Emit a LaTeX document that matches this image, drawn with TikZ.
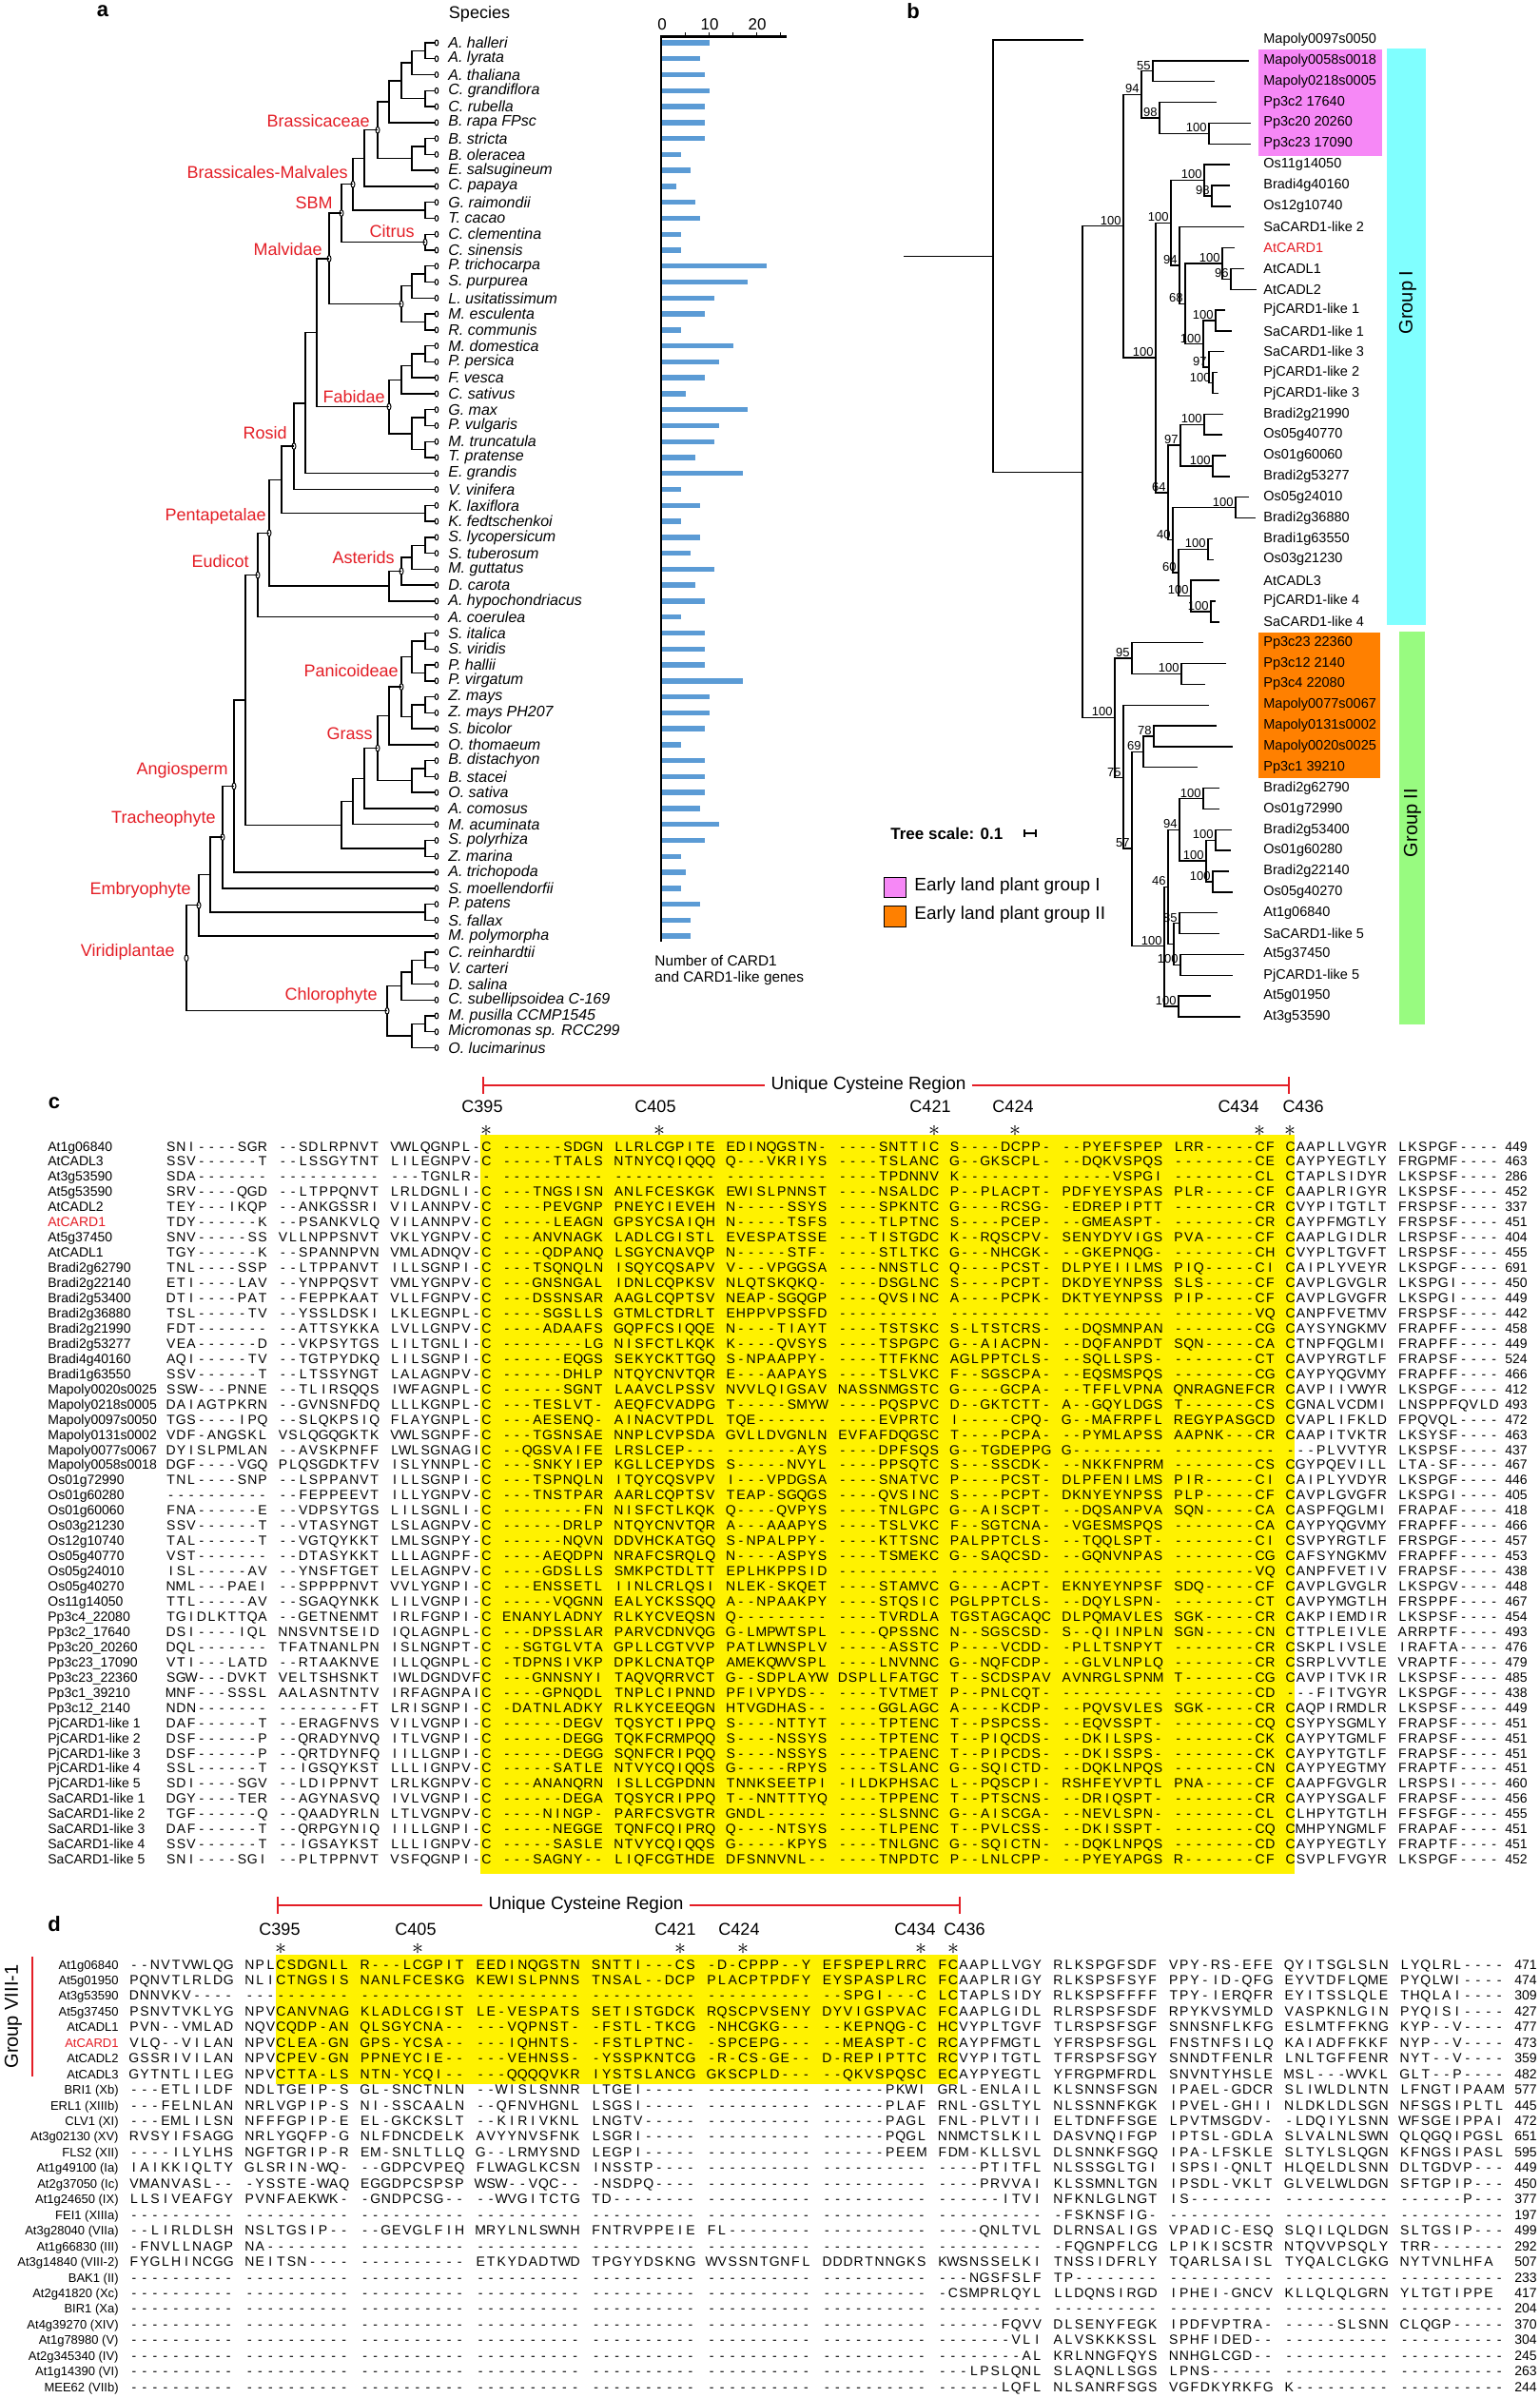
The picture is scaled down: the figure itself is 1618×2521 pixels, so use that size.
\documentclass[tikz,border=0pt]{standalone}
\usepackage{fontspec}
\setmainfont{Liberation Sans}
\usetikzlibrary{shapes.geometric}

\definecolor{cladered}{RGB}{228,30,38}
\definecolor{barblue}{RGB}{91,155,213}
\definecolor{hlyellow}{RGB}{255,242,0}
\definecolor{elpink}{RGB}{246,136,246}
\definecolor{elorange}{RGB}{255,128,0}
\definecolor{grpcyan}{RGB}{128,255,255}
\definecolor{grpgreen}{RGB}{152,251,128}

% row positions (pixel grid of the figure)
\newcommand\ya[1]{45+16.77*(#1-1)}
\newcommand\yb[1]{42+21.85*(#1-1)}
\newcommand\yc[1]{1205+15.95*(#1-1)}
\newcommand\yd[1]{2065+16.45*(#1-1)}

% one residue per fixed-width box
\ExplSyntaxOn
\NewDocumentCommand\seqrow{mm}{\str_map_inline:nn{#2}{\makebox[#1][c]{##1}}}
\ExplSyntaxOff

% species tree (panel a)
\newcommand\spleaf[3]{%
  \node[tipdot] (s#1) at (459,{\ya{#1}}) {};
  \node[spname] (s#1t) at (471,{\ya{#1}}) {#2};
  \ifx&#3&\else\draw[cardbar] (696,{\ya{#1}}) -- ++(5*#3,0);\fi}
\newcommand\anode[5]{%
  \coordinate (#1) at (#2,{\ya{#3}});
  \draw[branch] (#4) -| (#1) |- (#5);}
\newcommand\anodem[5]{%
  \anode{#1}{#2}{#3}{#4}{#5}
  \node[innerdot] (#1m) at (#1) {};}

% gene tree (panel b)
\newcommand\bleaf[4]{%
  \coordinate (#1) at (#3,{\yb{#2}});
  \node[gname] (#1n) at (1328,{\yb{#2}}) {#4};}
\newcommand\bjoin[5]{%
  \coordinate (#1) at (#2,{\yb{#3}});
  \draw[branch] (#4) -| (#1) |- (#5);}
\newcommand\bnode[6]{%
  \bjoin{#1}{#2}{#3}{#4}{#5}
  \node[boot] (#1b) at ([shift={(-2,-6)}]#1) {#6};}

% alignment rows (panels c, d)
\newcommand\crow[4]{%
  \node[alname] (cn#1) at (50,{\yc{#1}}) {#2};
  \node[alseq] (cs#1) at (174,{\yc{#1}}) {\seqrow{5.35pt}{#3}};
  \node[alnum] (cx#1) at (1582,{\yc{#1}}) {#4};}
\newcommand\drow[4]{%
  \node[dname] (dn#1) at (125,{\yd{#1}}) {#2};
  \node[alseq] (ds#1) at (135,{\yd{#1}}) {\seqrow{5.52pt}{#3}};
  \node[alnum] (dx#1) at (1592,{\yd{#1}}) {#4};}

\begin{document}
\begin{tikzpicture}[x=0.5pt,y=-0.5pt,
  branch/.style={draw=black,line width=0.7pt},
  tipdot/.style={ellipse,draw=black,fill=white,line width=0.5pt,minimum width=1.8pt,minimum height=3pt,inner sep=0pt},
  innerdot/.style={ellipse,draw=black,fill=white,line width=0.5pt,minimum width=2pt,minimum height=3.4pt,inner sep=0pt},
  spname/.style={anchor=west,inner sep=0pt,font=\fontsize{8}{8}\selectfont\itshape},
  cladelbl/.style={anchor=east,inner sep=0pt,text=cladered,font=\fontsize{9}{9}\selectfont},
  cardbar/.style={draw=barblue,line width=2.7pt},
  axislbl/.style={inner sep=0pt,font=\fontsize{8.5}{8.5}\selectfont},
  gname/.style={anchor=west,inner sep=0pt,font=\fontsize{7.25}{7.25}\selectfont},
  boot/.style={anchor=east,inner sep=0pt,font=\fontsize{6.5}{6.5}\selectfont},
  grplbl/.style={rotate=90,inner sep=0pt,font=\fontsize{10}{10}\selectfont},
  legendtxt/.style={anchor=west,inner sep=0pt,font=\fontsize{9.5}{9.5}\selectfont},
  panel/.style={inner sep=0pt,font=\fontsize{11}{11}\selectfont\bfseries},
  alname/.style={anchor=west,inner sep=0pt,text height=5pt,text depth=0pt,font=\fontsize{7}{7}\selectfont},
  dname/.style={anchor=east,inner sep=0pt,text height=5pt,text depth=0pt,font=\fontsize{6.5}{6.5}\selectfont},
  alseq/.style={anchor=west,inner sep=0pt,text height=5pt,text depth=0pt,font=\fontsize{7}{7}\selectfont},
  alnum/.style={anchor=west,inner sep=0pt,text height=5pt,text depth=0pt,font=\fontsize{7}{7}\selectfont},
  redline/.style={draw=cladered,line width=0.6pt},
  ucr/.style={inner sep=3pt,font=\fontsize{9.5}{9.5}\selectfont},
  cpos/.style={inner sep=0pt,font=\fontsize{9}{9}\selectfont},
  star/.style={inner sep=0pt,font=\fontsize{12}{12}\selectfont}]
\useasboundingbox (0,0) rectangle (1618,2521);
\fill[white] (0,0) rectangle (1618,2521);

%%% panel a
\node[panel] (pa) at (108,12) {a};
\node[inner sep=0pt,font=\fontsize{9}{9}\selectfont] (spec) at (504,15) {Species};

\spleaf{1}{A. halleri}{10}
\spleaf{2}{A. lyrata}{8}
\spleaf{3}{A. thaliana}{9}
\spleaf{4}{C. grandiflora}{10}
\spleaf{5}{C. rubella}{9}
\spleaf{6}{B. rapa FPsc}{9}
\spleaf{7}{B. stricta}{9}
\spleaf{8}{B. oleracea}{4}
\spleaf{9}{E. salsugineum}{6}
\spleaf{10}{C. papaya}{3}
\spleaf{11}{G. raimondii}{7}
\spleaf{12}{T. cacao}{8}
\spleaf{13}{C. clementina}{4}
\spleaf{14}{C. sinensis}{4}
\spleaf{15}{P. trichocarpa}{22}
\spleaf{16}{S. purpurea}{18}
\spleaf{17}{L. usitatissimum}{11}
\spleaf{18}{M. esculenta}{9}
\spleaf{19}{R. communis}{4}
\spleaf{20}{M. domestica}{15}
\spleaf{21}{P. persica}{12}
\spleaf{22}{F. vesca}{9}
\spleaf{23}{C. sativus}{5}
\spleaf{24}{G. max}{18}
\spleaf{25}{P. vulgaris}{12}
\spleaf{26}{M. truncatula}{11}
\spleaf{27}{T. pratense}{7}
\spleaf{28}{E. grandis}{17}
\spleaf{29}{V. vinifera}{4}
\spleaf{30}{K. laxiflora}{8}
\spleaf{31}{K. fedtschenkoi}{4}
\spleaf{32}{S. lycopersicum}{8}
\spleaf{33}{S. tuberosum}{6}
\spleaf{34}{M. guttatus}{11}
\spleaf{35}{D. carota}{7}
\spleaf{36}{A. hypochondriacus}{9}
\spleaf{37}{A. coerulea}{4}
\spleaf{38}{S. italica}{9}
\spleaf{39}{S. viridis}{9}
\spleaf{40}{P. hallii}{9}
\spleaf{41}{P. virgatum}{17}
\spleaf{42}{Z. mays}{10}
\spleaf{43}{Z. mays PH207}{10}
\spleaf{44}{S. bicolor}{9}
\spleaf{45}{O. thomaeum}{4}
\spleaf{46}{B. distachyon}{9}
\spleaf{47}{B. stacei}{9}
\spleaf{48}{O. sativa}{9}
\spleaf{49}{A. comosus}{8}
\spleaf{50}{M. acuminata}{12}
\spleaf{51}{S. polyrhiza}{9}
\spleaf{52}{Z. marina}{4}
\spleaf{53}{A. trichopoda}{5}
\spleaf{54}{S. moellendorfii}{4}
\spleaf{55}{P. patens}{8}
\spleaf{56}{S. fallax}{6}
\spleaf{57}{M. polymorpha}{6}
\spleaf{58}{C. reinhardtii}{}
\spleaf{59}{V. carteri}{}
\spleaf{60}{D. salina}{}
\spleaf{61}{C. subellipsoidea C-169}{}
\spleaf{62}{M. pusilla CCMP1545}{}
\spleaf{63}{Micromonas sp. RCC299}{}
\spleaf{64}{O. lucimarinus}{}

% Brassicales-Malvales
\anode{h1}{447}{1.5}{s1}{s2}
\anode{h2}{433}{2.25}{h1}{s3}
\anode{h3}{447}{4.5}{s4}{s5}
\anode{h4}{422}{3.375}{h2}{h3}
\anode{h5}{409}{4.6875}{h4}{s6}
\anode{h6}{447}{7.5}{s7}{s8}
\anode{h7}{433}{8.25}{h6}{s9}
\anodem{brass}{397}{6.47}{h5}{h7}
\anode{h8}{383}{8.23}{brass}{s10}
\anode{h9}{447}{11.5}{s11}{s12}
\anodem{bm}{371}{9.87}{h8}{h9}
\anodem{citrus}{447}{13.5}{s13}{s14}
\anodem{sbm}{359}{11.68}{bm}{citrus}
\anode{m1}{447}{15.5}{s15}{s16}
\anode{m2}{433}{16.25}{m1}{s17}
\anode{m3}{447}{18.5}{s18}{s19}
\anodem{malp}{422}{17.375}{m2}{m3}
\anodem{malv}{346}{14.53}{sbm}{malp}
% Fabidae
\anode{f1}{447}{20.5}{s20}{s21}
\anode{f2}{433}{21.25}{f1}{s22}
\anode{f3}{422}{22.125}{f2}{s23}
\anode{f4}{447}{24.5}{s24}{s25}
\anode{f5}{447}{26.5}{s26}{s27}
\anode{f6}{433}{25.5}{f4}{f5}
\anodem{fab}{409}{23.81}{f3}{f6}
\anode{r1}{333}{19.17}{malv}{fab}
\anode{r2}{321}{23.59}{r1}{s28}
\anodem{rosid}{309}{26.29}{r2}{s29}
\anode{k1}{447}{30.5}{s30}{s31}
\anode{r3}{296}{28.4}{rosid}{k1}
% Asterids
\anode{a1}{447}{32.5}{s32}{s33}
\anode{a2}{433}{33.25}{a1}{s34}
\anodem{ast}{422}{34.125}{a2}{s35}
\anode{a3}{409}{35.06}{ast}{s36}
\anodem{penta}{283}{31.73}{r3}{a3}
\anodem{eud}{271}{34.37}{penta}{s37}
% monocots
\anode{p1}{447}{38.5}{s38}{s39}
\anode{p2}{447}{40.5}{s40}{s41}
\anode{p3}{433}{39.5}{p1}{p2}
\anode{p4}{447}{42.5}{s42}{s43}
\anode{p5}{433}{43.25}{p4}{s44}
\anodem{pan}{422}{41.375}{p3}{p5}
\anode{p6}{409}{43.19}{pan}{s45}
\anode{g1}{447}{46.5}{s46}{s47}
\anode{g2}{433}{47.25}{g1}{s48}
\anodem{grass}{397}{45.22}{p6}{g2}
\anode{mo1}{383}{47.11}{grass}{s49}
\anode{mo2}{371}{48.55}{mo1}{s50}
\anode{mo3}{447}{51.5}{s51}{s52}
\anode{mono}{359}{50.03}{mo2}{mo3}
\anode{eu2}{258}{42.2}{eud}{mono}
\anodem{angio}{246}{47.6}{eu2}{s53}
\anodem{trach}{234}{50.8}{angio}{s54}
\anode{b1}{447}{55.5}{s55}{s56}
\anode{t2}{221}{53.15}{trach}{b1}
\anodem{embr}{209}{55.07}{t2}{s57}
% Chlorophyte
\anode{c1}{447}{58.5}{s58}{s59}
\anode{c2}{433}{59.25}{c1}{s60}
\anode{c3}{422}{60.125}{c2}{s61}
\anode{c4}{447}{62.5}{s62}{s63}
\anode{c5}{433}{63.25}{c4}{s64}
\anodem{chloro}{407}{61.69}{c3}{c5}
\anodem{viri}{196}{58.38}{embr}{chloro}

\node[cladelbl] (lbrass) at (389,127) {Brassicaceae};
\node[cladelbl] (lbm) at (366,181) {Brassicales-Malvales};
\node[cladelbl] (lsbm) at (350,213) {SBM};
\node[cladelbl] (lcitrus) at (436,243) {Citrus};
\node[cladelbl] (lmalv) at (339,262) {Malvidae};
\node[cladelbl] (lfab) at (405,417) {Fabidae};
\node[cladelbl] (lrosid) at (302,455) {Rosid};
\node[cladelbl] (lpenta) at (280,543) {Pentapetalae};
\node[cladelbl] (leud) at (262,590) {Eudicot};
\node[cladelbl] (last) at (415,586) {Asterids};
\node[cladelbl] (lpan) at (419,705) {Panicoideae};
\node[cladelbl] (lgrass) at (392,771) {Grass};
\node[cladelbl] (langio) at (240,810) {Angiosperm};
\node[cladelbl] (ltrach) at (227,861) {Tracheophyte};
\node[cladelbl] (lembr) at (201,936) {Embryophyte};
\node[cladelbl] (lviri) at (184,1001) {Viridiplantae};
\node[cladelbl] (lchloro) at (397,1047) {Chlorophyte};

% bar axis
\coordinate (ax0) at (695,38.5);
\coordinate (ax1) at (827,38.5);
\coordinate (axb) at (695,990);
\draw[line width=1.1pt] (ax1) -- (ax0) -- (axb);
\draw[line width=0.5pt] (720,38.5) -- (720,34) (745,38.5) -- (745,34) (770,38.5) -- (770,34) (795,38.5) -- (795,34) (820,38.5) -- (820,34);
\node[axislbl] (t0) at (696,26) {0};
\node[axislbl] (t10) at (746,26) {10};
\node[axislbl] (t20) at (796,26) {20};
\node[anchor=west,inner sep=0pt,font=\fontsize{7.7}{7.7}\selectfont] (nlab1) at (688,1010) {Number of CARD1};
\node[anchor=west,inner sep=0pt,font=\fontsize{7.7}{7.7}\selectfont] (nlab2) at (688,1029) {and CARD1-like genes};

%%% panel b
\node[panel] (pb) at (960,12) {b};
\fill[elpink] (1323,52) rectangle (1453,164);
\fill[elorange] (1323,665) rectangle (1451,818);
\fill[grpcyan] (1458,51) rectangle (1499,657);
\fill[grpgreen] (1471,664) rectangle (1498,1077);
\node[grplbl] (g1lab) at (1480,318) {Group I};
\node[grplbl] (g2lab) at (1485,865) {Group II};

\bleaf{b1}{1}{1139}{Mapoly0097s0050}
\bleaf{b2}{2}{1313}{Mapoly0058s0018}
\bleaf{b3}{3}{1277}{Mapoly0218s0005}
\bleaf{b4}{4}{1279}{Pp3c2 17640}
\bleaf{b5}{5}{1315}{Pp3c20 20260}
\bleaf{b6}{6}{1315}{Pp3c23 17090}
\bleaf{b7}{7}{1293}{Os11g14050}
\bleaf{b8}{8}{1293}{Bradi4g40160}
\bleaf{b9}{9}{1294}{Os12g10740}
\bleaf{b10}{10}{1308}{SaCARD1-like 2}
\bleaf{b11}{11}{1298}{\textcolor{cladered}{AtCARD1}}
\bleaf{b12}{12}{1308}{AtCADL1}
\bleaf{b13}{13}{1321}{AtCADL2}
\bleaf{b14}{14}{1288}{PjCARD1-like 1}
\bleaf{b15}{15}{1295}{SaCARD1-like 1}
\bleaf{b16}{16}{1287}{SaCARD1-like 3}
\bleaf{b17}{17}{1280}{PjCARD1-like 2}
\bleaf{b18}{18}{1281}{PjCARD1-like 3}
\bleaf{b19}{19}{1286}{Bradi2g21990}
\bleaf{b20}{20}{1285}{Os05g40770}
\bleaf{b21}{21}{1289}{Os01g60060}
\bleaf{b22}{22}{1293}{Bradi2g53277}
\bleaf{b23}{23}{1313}{Os05g24010}
\bleaf{b24}{24}{1320}{Bradi2g36880}
\bleaf{b25}{25}{1275}{Bradi1g63550}
\bleaf{b26}{26}{1276}{Os03g21230}
\bleaf{b27}{27}{1282}{AtCADL3}
\bleaf{b28}{28}{1278}{PjCARD1-like 4}
\bleaf{b29}{29}{1282}{SaCARD1-like 4}
\bleaf{b30}{30}{1265}{Pp3c23 22360}
\bleaf{b31}{31}{1289}{Pp3c12 2140}
\bleaf{b32}{32}{1267}{Pp3c4 22080}
\bleaf{b33}{33}{1271}{Mapoly0077s0067}
\bleaf{b34}{34}{1279}{Mapoly0131s0002}
\bleaf{b35}{35}{1296}{Mapoly0020s0025}
\bleaf{b36}{36}{1259}{Pp3c1 39210}
\bleaf{b37}{37}{1282}{Bradi2g62790}
\bleaf{b38}{38}{1282}{Os01g72990}
\bleaf{b39}{39}{1295}{Bradi2g53400}
\bleaf{b40}{40}{1294}{Os01g60280}
\bleaf{b41}{41}{1292}{Bradi2g22140}
\bleaf{b42}{42}{1296}{Os05g40270}
\bleaf{b43}{43}{1280}{At1g06840}
\bleaf{b44}{44}{1282}{SaCARD1-like 5}
\bleaf{b45}{45}{1308}{At5g37450}
\bleaf{b46}{46}{1296}{PjCARD1-like 5}
\bleaf{b47}{47}{1273}{At5g01950}
\bleaf{b48}{48}{1304}{At3g53590}

% group I
\bnode{n55}{1212}{2.5}{b2}{b3}{55}
\bnode{n100a}{1271}{5.5}{b5}{b6}{100}
\bnode{n98a}{1219}{4.75}{b4}{n100a}{98}
\bnode{n94a}{1200}{3.625}{n55}{n98a}{94}
\bnode{n98b}{1274}{8.5}{b8}{b9}{98}
\bnode{n100b}{1266}{7.75}{b7}{n98b}{100}
\bnode{n96}{1294}{12.5}{b12}{b13}{96}
\bnode{n100c}{1285}{11.75}{b11}{n96}{100}
\bnode{n100d}{1278}{14.5}{b14}{b15}{100}
\bnode{n100e}{1275}{17.5}{b17}{b18}{100}
\bnode{n97a}{1271}{16.75}{b16}{n100e}{97}
\bnode{n100f}{1265}{15.625}{n100d}{n97a}{100}
\bnode{n68}{1246}{13.69}{n100c}{n100f}{68}
\bnode{n94b}{1240}{11.84}{b10}{n68}{94}
\bnode{n100g}{1231}{9.8}{n100b}{n94b}{100}
\bnode{n100h}{1266}{19.5}{b19}{b20}{100}
\bnode{n100i}{1275}{21.5}{b21}{b22}{100}
\bnode{n97b}{1241}{20.5}{n100h}{n100i}{97}
\bnode{n100j}{1299}{23.5}{b23}{b24}{100}
\bnode{n100k}{1270}{25.5}{b25}{b26}{100}
\bnode{n100l}{1273}{28.5}{b28}{b29}{100}
\bnode{n100m}{1252}{27.75}{b27}{n100l}{100}
\bnode{n60}{1239}{26.625}{n100k}{n100m}{60}
\bnode{n40}{1233}{25.06}{n100j}{n60}{40}
\bnode{n64}{1228}{22.78}{n97b}{n40}{64}
\bnode{n100n}{1215}{16.29}{n100g}{n64}{100}
\bnode{grpI}{1181}{9.96}{n94a}{n100n}{100}
% group II
\bnode{n100o}{1242}{31.5}{b31}{b32}{100}
\bnode{n95}{1190}{30.75}{b30}{n100o}{95}
\bnode{n78}{1213}{34.5}{b34}{b35}{78}
\bnode{n69}{1202}{35.25}{n78}{b36}{69}
\bnode{n100p}{1265}{37.5}{b37}{b38}{100}
\bnode{n100q}{1278}{39.5}{b39}{b40}{100}
\bnode{n100r}{1275}{41.5}{b41}{b42}{100}
\bnode{n100s}{1268}{40.5}{n100q}{n100r}{100}
\bnode{n94c}{1240}{39}{n100p}{n100s}{94}
\bnode{n85}{1240}{43.5}{b43}{b44}{85}
\bnode{n100t}{1241}{45.5}{b45}{b46}{100}
\bjoin{n100u}{1234}{44.5}{n85}{n100t}
\bnode{n46}{1228}{41.75}{n94c}{n100u}{46}
\bnode{n100v}{1239}{47.5}{b47}{b48}{100}
\bnode{n100w}{1224}{44.6}{n46}{n100v}{100}
\bnode{n57}{1190}{39.9}{n69}{n100w}{57}
\bnode{n75}{1181}{36.5}{b33}{n57}{75}
\bnode{grpII}{1172}{33.6}{n95}{n75}{100}
\bjoin{nB}{1138}{21.8}{grpI}{grpII}
\bjoin{nA}{1044}{11.4}{b1}{nB}
\coordinate (broot) at (950,{\yb{11.4}});
\draw[branch] (broot) -- (nA);

% scale and legend
\node[anchor=west,inner sep=0pt,font=\fontsize{8.5}{8.5}\selectfont\bfseries] (tsc) at (936,876) {Tree scale: 0.1};
\coordinate (sc0) at (1077,876);
\coordinate (sc1) at (1089,876);
\draw[line width=0.6pt] (sc0) -- (sc1) ([shift={(0,-4)}]sc0) -- ([shift={(0,4)}]sc0) ([shift={(0,-4)}]sc1) -- ([shift={(0,4)}]sc1);
\filldraw[fill=elpink,draw=black,line width=0.5pt] (929,922) rectangle (952,943);
\filldraw[fill=elorange,draw=black,line width=0.5pt] (929,952) rectangle (952,974);
\node[legendtxt] (leg1) at (961,932) {Early land plant group I};
\node[legendtxt] (leg2) at (961,962) {Early land plant group II};

%%% panel c
\node[panel] (pc) at (57,1160) {c};
\fill[hlyellow] (505,1193) rectangle (1361,1970);
\coordinate (cul) at (508,1141);
\coordinate (cur) at (1355,1141);
\node[ucr] (cuc) at (913,1141) {Unique Cysteine Region};
\draw[redline] (cul) -- (cuc.west) (cuc.east) -- (cur);
\draw[redline] ([shift={(0,-9)}]cul) -- ([shift={(0,9)}]cul) ([shift={(0,-9)}]cur) -- ([shift={(0,9)}]cur);
\node[cpos] (cc1) at (507,1163) {C395};
\node[cpos] (cc2) at (689,1163) {C405};
\node[cpos] (cc3) at (978,1163) {C421};
\node[cpos] (cc4) at (1065,1163) {C424};
\node[cpos] (cc5) at (1302,1163) {C434};
\node[cpos] (cc6) at (1370,1163) {C436};
\node[star] (ca1) at (511,1189) {$\ast$};
\node[star] (ca2) at (693,1189) {$\ast$};
\node[star] (ca3) at (982,1189) {$\ast$};
\node[star] (ca4) at (1067,1189) {$\ast$};
\node[star] (ca5) at (1324,1189) {$\ast$};
\node[star] (ca6) at (1356,1189) {$\ast$};

\crow{1}{At1g06840}{SNI----SGR --SDLRPNVT VWLQGNPL-C ------SDGN LLRLCGPITE EDINQGSTN- ----SNTTIC S----DCPP- --PYEFSPEP LRR-----CF CAAPLLVGYR LKSPGF----}{449}
\crow{2}{AtCADL3}{SSV------T --LSSGYTNT LILEGNPV-C -----TTALS NTNYCQIQQQ Q---VKRIYS ----TSLANC G--GKSCPL- --DQKVSPQS --------CE CAYPYEGTLY FRGPMF----}{463}
\crow{3}{At3g53590}{SDA------- ---------- ---TGNLR-- ---------- ---------- ---------- ----TPDNNV K--------- -----VSPGI --------CL CTAPLSIDYR LKSPSF----}{286}
\crow{4}{At5g53590}{SRV----QGD --LTPPQNVT LRLDGNLI-C ---TNGSISN ANLFCESKGK EWISLPNNST ----NSALDC P--PLACPT- PDFYEYSPAS PLR-----CF CAAPLRIGYR LKSPSF----}{452}
\crow{5}{AtCADL2}{TEY---IKQP --ANKGSSRI VILANNPV-C ----PEVGNP PNEYCIEVEH N-----SSYS ----SPKNTC G----RCSG- -EDREPIPTT --------CR CVYPITGTLT FRSPSF----}{337}
\crow{6}{\textcolor{cladered}{AtCARD1}}{TDY------K --PSANKVLQ VILANNPV-C -----LEAGN GPSYCSAIQH N-----TSFS ----TLPTNC S----PCEP- --GMEASPT- --------CR CAYPFMGTLY FRSPSF----}{451}
\crow{7}{At5g37450}{SNV-----SS VLLNPPSNVT VKLYGNPV-C ---ANVNAGK LADLCGISTL EVESPATSSE ---TISTGDC K--RQSCPV- SENYDYVIGS PVA-----CF CAAPLGIDLR LRSPSF----}{404}
\crow{8}{AtCADL1}{TGY------K --SPANNPVN VMLADNQV-C ----QDPANQ LSGYCNAVQP N-----STF- ----STLTKC G---NHCGK- --GKEPNQG- --------CH CVYPLTGVFT LRSPSF----}{455}
\crow{9}{Bradi2g62790}{TNL----SSP --LTPPANVT ILLSGNPI-C ---TSQNQLN ISQYCQSAPV V---VPGGSA ----NNSTLC Q----PCST- DLPYEIILMS PIQ-----CI CAIPLYVEYR LKSPGF----}{691}
\crow{10}{Bradi2g22140}{ETI----LAV --YNPPQSVT VMLYGNPV-C ---GNSNGAL IDNLCQPKSV NLQTSKQKQ- ----DSGLNC S----PCPT- DKDYEYNPSS SLS-----CF CAVPLGVGLR LKSPGI----}{450}
\crow{11}{Bradi2g53400}{DTI----PAT --FEPPKAAT VLLFGNPV-C ---DSSNSAR AAGLCQPTSV NEAP-SGQGP ----QVSINC A----PCPK- DKTYEYNPSS PIP-----CF CAVPLGVGFR LKSPGI----}{449}
\crow{12}{Bradi2g36880}{TSL-----TV --YSSLDSKI LKLEGNPL-C ----SGSLLS GTMLCTDRLT EHPPVPSSFD ---------- ---------- ---------- --------VQ CANPFVETMV FRSPSF----}{442}
\crow{13}{Bradi2g21990}{FDT------- --ATTSYKKA LVLLGNPV-C ----ADAAFS GQPFCSIQQE N----TIAYT ----TSTSKC S-LTSTCRS- --DQSMNPAN --------CG CAYSYNGKMV FRAPFF----}{458}
\crow{14}{Bradi2g53277}{VEA------D --VKPSYTGS LILTGNLI-C --------LG NISFCTLKQK K----QVSYS ----TSPGPC G--AIACPN- --DQFANPDT SQN-----CA CTNPFQGLMI FRAPFF----}{449}
\crow{15}{Bradi4g40160}{AQI-----TV --TGTPYDKQ LILSGNPI-C ------EQGS SEKYCKTTGQ S-NPAAPPY- ----TTFKNC AGLPPTCLS- --SQLLSPS- --------CT CAVPYRGTLF FRAPSF----}{524}
\crow{16}{Bradi1g63550}{SSV------T --LTSSYNGT LALAGNPV-C ------DHLP NTQYCNVTQR E---AAPAYS ----TSLVKC F--SGSCPA- --EQSMSPQS --------CG CAYPYQGVMY FRAPFF----}{466}
\crow{17}{Mapoly0020s0025}{SSW---PNNE --TLIRSQQS IWFAGNPL-C ------SGNT LAAVCLPSSV NVVLQIGSAV NASSNMGSTC G----GCPA- --TFFLVPNA QNRAGNEFCR CAVPIIVWYR LKSPGF----}{412}
\crow{18}{Mapoly0218s0005}{DAIAGTPKRN --GVNSNFDQ LLLKGNPL-C ---TESLVT- AEQFCVADPG T-----SMYW ----PQSPVC D--GKTCTT- A--GQYLDGS T-------CS CGNALVCDMI LNSPPFQVLD}{493}
\crow{19}{Mapoly0097s0050}{TGS----IPQ --SLQKPSIQ FLAYGNPL-C ---AESENQ- AINACVTPDL TQE------- ----EVPRTC I-----CPQ- G--MAFRPFL REGYPASGCD CVAPLIFKLD FPQVQL----}{472}
\crow{20}{Mapoly0131s0002}{VDF-ANGSKL VSLQGQGKTK VWLSGNPF-C ---TGSNSAE NNPLCVPSDA GVLLDVGNLN EVFAFDQGSC T----PCPA- --PYMLAPSS AAPNK---CR CAAPITVKTR LKSYSF----}{463}
\crow{21}{Mapoly0077s0067}{DYISLPMLAN --AVSKPNFF LWLSGNAGIC --QGSVAIFE LRSLCEP--- -------AYS ----DPFSQS G--TGDEPPG G--------- ---------- ---PLVVTYR LKSPSF----}{437}
\crow{22}{Mapoly0058s0018}{DGF----VGQ PLQSGDKTFV ISLYNNPL-C ---SNKYIEP KGLLCEPYDS S-----NVYL ----PPSQTC S---SSCDK- --NKKFNPRM --------CS CGYPQEVILL LTA-SF----}{467}
\crow{23}{Os01g72990}{TNL----SNP --LSPPANVT ILLSGNPI-C ---TSPNQLN ITQYCQSVPV I---VPDGSA ----SNATVC P----PCST- DLPFENILMS PIR-----CI CAIPLYVDYR LKSPGF----}{446}
\crow{24}{Os01g60280}{---------- --FEPPEEVT ILLYGNPV-C ---TNSTPAR AARLCQPTSV TEAP-SGQGS ----QVSINC S----PCPT- DKNYEYNPSS PLP-----CF CAVPLGVGFR LKSPGI----}{405}
\crow{25}{Os01g60060}{FNA------E --VDPSYTGS LILSGNLI-C --------FN NISFCTLKQK Q----QVPYS ----TNLGPC G--AISCPT- --DQSANPVA SQN-----CA CASPFQGLMI FRAPAF----}{418}
\crow{26}{Os03g21230}{SSV------T --VTASYNGT LSLAGNPV-C ------DRLP NTQYCNVTQR A---AAAPYS ----TSLVKC F--SGTCNA- -VGESMSPQS --------CA CAYPYQGVMY FRAPFF----}{466}
\crow{27}{Os12g10740}{TAL------T --VGTQYKKT LMLSGNPY-C ------NQVN DDVHCKATGQ S-NPALPPY- ----KTTSNC PALPPTCLS- --TQQLSPT- --------CI CSVPYRGTLF FRSPGF----}{457}
\crow{28}{Os05g40770}{VST------- --DTASYKKT LLLAGNPF-C ----AEQDPN NRAFCSRQLQ N----ASPYS ----TSMEKC G--SAQCSD- --GQNVNPAS --------CG CAFSYNGKMV FRAPFF----}{453}
\crow{29}{Os05g24010}{ISL-----AV --YNSFTGET LELAGNPV-C ----GDSLLS SMKPCTDLTT EPLHKPPSID ---------- ---------- ---------- --------VQ CANPFVETIV FRAPSF----}{438}
\crow{30}{Os05g40270}{NML---PAEI --SPPPPNVT VVLYGNPI-C ---ENSSETL IINLCRLQSI NLEK-SKQET ----STAMVC G----ACPT- EKNYEYNPSF SDQ-----CF CAVPLGVGLR LKSPGV----}{448}
\crow{31}{Os11g14050}{TTL-----AV --SGAQYNKK LILVGNPI-C -----VQGNN EALYCKSSQQ A--NPAAKPY ----STQSIC PGLPPTCLS- --DQYLSPN- --------CT CAVPYMGTLH FRSPPF----}{467}
\crow{32}{Pp3c4\_22080}{TGIDLKTTQA --GETNENMT IRLFGNPI-C ENANYLADNY RLKYCVEQSN Q--------- ----TVRDLA TGSTAGCAQC DLPQMAVLES SGK-----CR CAKPIEMDIR LKSPSF----}{454}
\crow{33}{Pp3c2\_17640}{DSI----IQL NNSVNTSEID IQLAGNPL-C ---DPSSLAR PARVCDNVQG G-LMPWTSPL ----QPSSNC N--SGSCSD- S--QIINPLN SGN-----CN CTTPLEIVLE ARRPTF----}{493}
\crow{34}{Pp3c20\_20260}{DQL------- TFATNANLPN ISLNGNPT-C --SGTGLVTA GPLLCGTVVP PATLWNSPLV -----ASSTC P----VCDD- -PLLTSNPYT --------CR CSKPLIVSLE IRAFTA----}{476}
\crow{35}{Pp3c23\_17090}{VTI---LATD --RTAAKNVE ILLQGNPL-C -TDPNSIVKP DPKLCNATQP AMEKQWVSPL ----LNVNNC G--NQFCDP- --GLVLNPLQ --------CR CSRPLVVTLE VRAPTF----}{479}
\crow{36}{Pp3c23\_22360}{SGW---DVKT VELTSHSNKT IWLDGNDVFC ---GNNSNYI TAQVQRRVCT G--SDPLAYW DSPLLFATGC T--SCDSPAV AVNRGLSPNM T-------CG CAVPITVKIR LKSPSF----}{485}
\crow{37}{Pp3c1\_39210}{MNF---SSSL AALASNTNTV IRFAGNPAIC ----GPNQDL TNPLCIPNND PFIVPYDS-- ----TVTMET P--PNLCQT- ---------- --------CD ---FITVGYR LKSPGF----}{438}
\crow{38}{Pp3c12\_2140}{NDN------- --------FT LRISGNPI-C -DATNLADKY RLKYCEEQGN HTVGDHAS-- ----GGLAGC A----KCDP- --PQVSVLES SGK-----CR CAQPIRMDLR LKSPSF----}{449}
\crow{39}{PjCARD1-like 1}{DAF------T --ERAGFNVS VILVGNPI-C ------DEGV TQSYCTIPPQ S----NTTYT ----TPTENC T--PSPCSS- --EQVSSPT- --------CQ CSYPYSGMLY FRAPSF----}{451}
\crow{40}{PjCARD1-like 2}{DSF------P --QRADYNVQ ITLVGNPI-C ------DEGG TQKFCRMPQQ S----NSSYS ----TPTENC T--PIQCDS- --DKILSPS- --------CK CAYPYTGMLF FRAPSF----}{451}
\crow{41}{PjCARD1-like 3}{DSF------P --QRTDYNFQ IILLGNPI-C ------DEGG SQNFCRIPQQ S----NSSYS ----TPAENC T--PIPCDS- --DKISSPS- --------CK CAYPYTGTLF FRAPSF----}{451}
\crow{42}{PjCARD1-like 4}{SSL------T --IGSQYKST LLLIGNPV-C -----SATLE NTVYCQIQQS G-----RPYS ----TSLANC G--SQICTD- --DQKLNPQS --------CN CAYPYEGTMY FRAPTF----}{451}
\crow{43}{PjCARD1-like 5}{SDI----SGV --LDIPPNVT LRLKGNPV-C ---ANANQRN ISLLCGPDNN TNNKSEETPI -ILDKPHSAC L--PQSCPI- RSHFEYVPTL PNA-----CF CAAPFGVGLR LRSPSI----}{460}
\crow{44}{SaCARD1-like 1}{DGY----TER --AGYNASVQ IVLVGNPI-C ------DEGA TQSYCRIPPQ T--NNTTTYQ ----TPPENC T--PTSCNS- --DRIQSPT- --------CR CAYPYSGALF FRAPSF----}{456}
\crow{45}{SaCARD1-like 2}{TGF------Q --QAADYRLN LTLVGNPV-C ----NINGP- PARFCSVGTR GNDL------ ----SLSNNC G--AISCGA- --NEVLSPN- --------CL CLHPYTGTLH FFSFGF----}{455}
\crow{46}{SaCARD1-like 3}{DAF------T --QRPGYNIQ IILLGNPI-C -----NEGGE TQNFCQIPRQ Q----NTSYS ----TLPENC T--PVLCSS- --DKISSPT- --------CQ CMHPYNGMLF FRAPAF----}{451}
\crow{47}{SaCARD1-like 4}{SSV------T --IGSAYKST LLLIGNPV-C -----SASLE NTVYCQIQQS G-----KPYS ----TNLGNC G--SQICTN- --DQKLNPQS --------CD CAYPYEGTLY FRAPTF----}{451}
\crow{48}{SaCARD1-like 5}{SNI----SGI --PLTPPNVT VSFQGNPI-C ---SAGNY-- LIQFCGTHDE DFSNNVNL-- ----TNPDTC P--LNLCPP- --PYEYAPGS R-------CF CSVPLFVGYR LKSPGF----}{452}

%%% panel d
\node[panel] (pd) at (57,2023) {d};
\fill[hlyellow] (290,2055) rectangle (1007,2191);
\coordinate (dul) at (292,2003);
\coordinate (dur) at (1009,2003);
\node[ucr] (duc) at (616,2003) {Unique Cysteine Region};
\draw[redline] (dul) -- (duc.west) (duc.east) -- (dur);
\draw[redline] ([shift={(0,-9)}]dul) -- ([shift={(0,9)}]dul) ([shift={(0,-9)}]dur) -- ([shift={(0,9)}]dur);
\node[cpos] (dc1) at (294,2028) {C395};
\node[cpos] (dc2) at (437,2028) {C405};
\node[cpos] (dc3) at (710,2028) {C421};
\node[cpos] (dc4) at (777,2028) {C424};
\node[cpos] (dc5) at (962,2028) {C434};
\node[cpos] (dc6) at (1014,2028) {C436};
\node[star] (da1) at (295,2049) {$\ast$};
\node[star] (da2) at (439,2049) {$\ast$};
\node[star] (da3) at (715,2049) {$\ast$};
\node[star] (da4) at (781,2049) {$\ast$};
\node[star] (da5) at (968,2049) {$\ast$};
\node[star] (da6) at (1002,2049) {$\ast$};
\coordinate (gv0) at (34,2057);
\coordinate (gv1) at (34,2183);
\draw[draw=cladered,line width=1.1pt] (gv0) -- (gv1);
\node[grplbl] (gvlab) at (14,2120) {Group VIII-1};

\drow{1}{At1g06840}{--NVTVWLQG NPLCSDGNLL R---LCGPIT EEDINQGSTN SNTTI---CS -D-CPPP--Y EFSPEPLRRC FCAAPLLVGY RLKSPGFSDF VPY-RS-EFE QYITSGLSLN LYQLRL----}{471}
\drow{2}{At5g01950}{PQNVTLRLDG NLICTNGSIS NANLFCESKG KEWISLPNNS TNSAL--DCP PLACPTPDFY EYSPASPLRC FCAAPLRIGY RLKSPSFSYF PPY-ID-QFG EYVTDFLQME PYQLWI----}{474}
\drow{3}{At3g53590}{DNNVKV---- ---------- ---------- ---------- ---------- ---------- --SPGI---C LCTAPLSIDY RLKSPSFFFF TPY-IERQFR EYITSSLQLE THQLAI----}{309}
\drow{4}{At5g37450}{PSNVTVKLYG NPVCANVNAG KLADLCGIST LE-VESPATS SETISTGDCK RQSCPVSENY DYVIGSPVAC FCAAPLGIDL RLRSPSFSDF RPYKVSYMLD VASPKNLGIN PYQISI----}{427}
\drow{5}{AtCADL1}{PVN--VMLAD NQVCQDP-AN QLSGYCNA-- ---VQPNST- -FSTL-TKCG -NHCGKG--- --KEPNQG-C HCVYPLTGVF TLRSPSFSGF SNNSNFLKFG ESLMTFFKNG KYP--V----}{477}
\drow{6}{\textcolor{cladered}{AtCARD1}}{VLQ--VILAN NPVCLEA-GN GPS-YCSA-- ---IQHNTS- -FSTLPTNC- -SPCEPG--- --MEASPT-C RCAYPFMGTL YFRSPSFSGL FNSTNFSILQ KAIADFFKKF NYP--V----}{473}
\drow{7}{AtCADL2}{GSSRIVILAN NPVCPEV-GN PPNEYCIE-- ---VEHNSS- -YSSPKNTCG -R-CS-GE-- D-REPIPTTC RCVYPITGTL TFRSPSFSGY SNNDTFENLR LNLTGFFENR NYT--V----}{359}
\drow{8}{AtCADL3}{GYTNTLILEG NPVCTTA-LS NTN-YCQI-- ---QQQQVKR IYSTSLANCG GKSCPLD--- --QKVSPQSC ECAYPYEGTL YFRGPMFRDL SNVNTYHSLE MSL---WVKL GLT--P----}{482}
\drow{9}{BRI1 (Xb)}{---ETLILDF NDLTGEIP-S GL-SNCTNLN --WISLSNNR LTGEI----- ---------- ------PKWI GRL-ENLAIL KLSNNSFSGN IPAEL-GDCR SLIWLDLNTN LFNGTIPAAM}{577}
\drow{10}{ERL1 (XIIIb)}{---FELNLAN NRLVGPIP-S NI-SSCAALN --QFNVHGNL LSGSI----- ---------- ------PLAF RNL-GSLTYL NLSSNNFKGK IPVEL-GHII NLDKLDLSGN NFSGSIPLTL}{445}
\drow{11}{CLV1 (XI)}{---EMLILSN NFFFGPIP-E EL-GKCKSLT --KIRIVKNL LNGTV----- ---------- ------PAGL FNL-PLVTII ELTDNFFSGE LPVTMSGDV- -LDQIYLSNN WFSGEIPPAI}{472}
\drow{12}{At3g02130 (XV)}{RVSYIFSAGG NRLYGQFP-G NLFDNCDELK AVYYNVSFNK LSGRI----- ---------- ------PQGL NNMCTSLKIL DASVNQIFGP IPTSL-GDLA SLVALNLSWN QLQGQIPGSL}{651}
\drow{13}{FLS2 (XII)}{----ILYLHS NGFTGRIP-R EM-SNLTLLQ G--LRMYSND LEGPI----- ---------- ------PEEM FDM-KLLSVL DLSNNKFSGQ IPA-LFSKLE SLTYLSLQGN KFNGSIPASL}{595}
\drow{14}{At1g49100 (Ia)}{IAIKKIQLTY GLSRIN-WQ- --GDPCVPEQ FLWAGLKCSN INSSTP---- ---------- ---------- ----PTITFL NLSSSGLTGI ISPSI-QNLT HLQELDLSNN DLTGDVP---}{449}
\drow{15}{At2g37050 (Ic)}{VMANVASL-- -YSSTE-WAQ EGGDPCSPSP WSW--VQC-- -NSDPQ---- ---------- ---------- ----PRVVAI KLSSMNLTGN IPSDL-VKLT GLVELWLDGN SFTGPIP---}{450}
\drow{16}{At1g24650 (IX)}{LLSIVEAFGY PVNFAEKWK- -GNDPCSG-- --WVGITCTG TD-------- ---------- ---------- ------ITVI NFKNLGLNGT IS-------- ---------- ------P---}{377}
\drow{17}{FEI1 (XIIIa)}{---------- ---------- ---------- ---------- ---------- ---------- ---------- ---------- -FSKNSFIG- ---------- ---------- ----------}{197}
\drow{18}{At3g28040 (VIIa)}{--LIRLDLSH NSLTGSIP-- --GEVGLFIH MRYLNLSWNH FNTRVPPEIE FL-------- ---------- ----QNLTVL DLRNSALIGS VPADIC-ESQ SLQILQLDGN SLTGSIP---}{499}
\drow{19}{At1g66830 (III)}{-FNVLLNAGP NA-------- ---------- ---------- ---------- ---------- ---------- ---------- -FQGNPFLCG LPIKISCSTR NTQVVPSQLY TRR-------}{292}
\drow{20}{At3g14840 (VIII-2)}{FYGLHINCGG NEITSN---- ---------- ETKYDADTWD TPGYYDSKNG WVSSNTGNFL DDDRTNNGKS KWSNSSELKI TNSSIDFRLY TQARLSAISL TYQALCLGKG NYTVNLHFA}{507}
\drow{21}{BAK1 (II)}{---------- ---------- ---------- ---------- ---------- ---------- ---------- ---NGSFSLF TP-------- ---------- ---------- ----------}{233}
\drow{22}{At2g41820 (Xc)}{---------- ---------- ---------- ---------- ---------- ---------- ---------- -CSMPRLQYL LLDQNSIRGD IPHEI-GNCV KLLQLQLGRN YLTGTIPPE}{417}
\drow{23}{BIR1 (Xa)}{---------- ---------- ---------- ---------- ---------- ---------- ---------- ---------- ---------- ---------- ---------- ----------}{204}
\drow{24}{At4g39270 (XIV)}{---------- ---------- ---------- ---------- ---------- ---------- ---------- ------FQVV DLSENYFEGK IPDFVPTRA- -----SLSNN CLQGP-----}{370}
\drow{25}{At1g78980 (V)}{---------- ---------- ---------- ---------- ---------- ---------- ---------- -------VLI ALVSKKKSSL SPHFIDED-- ---------- ----------}{304}
\drow{26}{At2g345340 (IV)}{---------- ---------- ---------- ---------- ---------- ---------- ---------- --------AL KRLNNGFQYS NNHGLCGD-- ---------- ----------}{245}
\drow{27}{At1g14390 (VI)}{---------- ---------- ---------- ---------- ---------- ---------- ---------- ---LPSLQNL SLAQNLLSGS LPNS------ ---------- ----------}{263}
\drow{28}{MEE62 (VIIb)}{---------- ---------- ---------- ---------- ---------- ---------- ---------- ------LQFL NLSANRFSGS VGFDKYRKFG K--------- ----------}{244}
\end{tikzpicture}
\end{document}
